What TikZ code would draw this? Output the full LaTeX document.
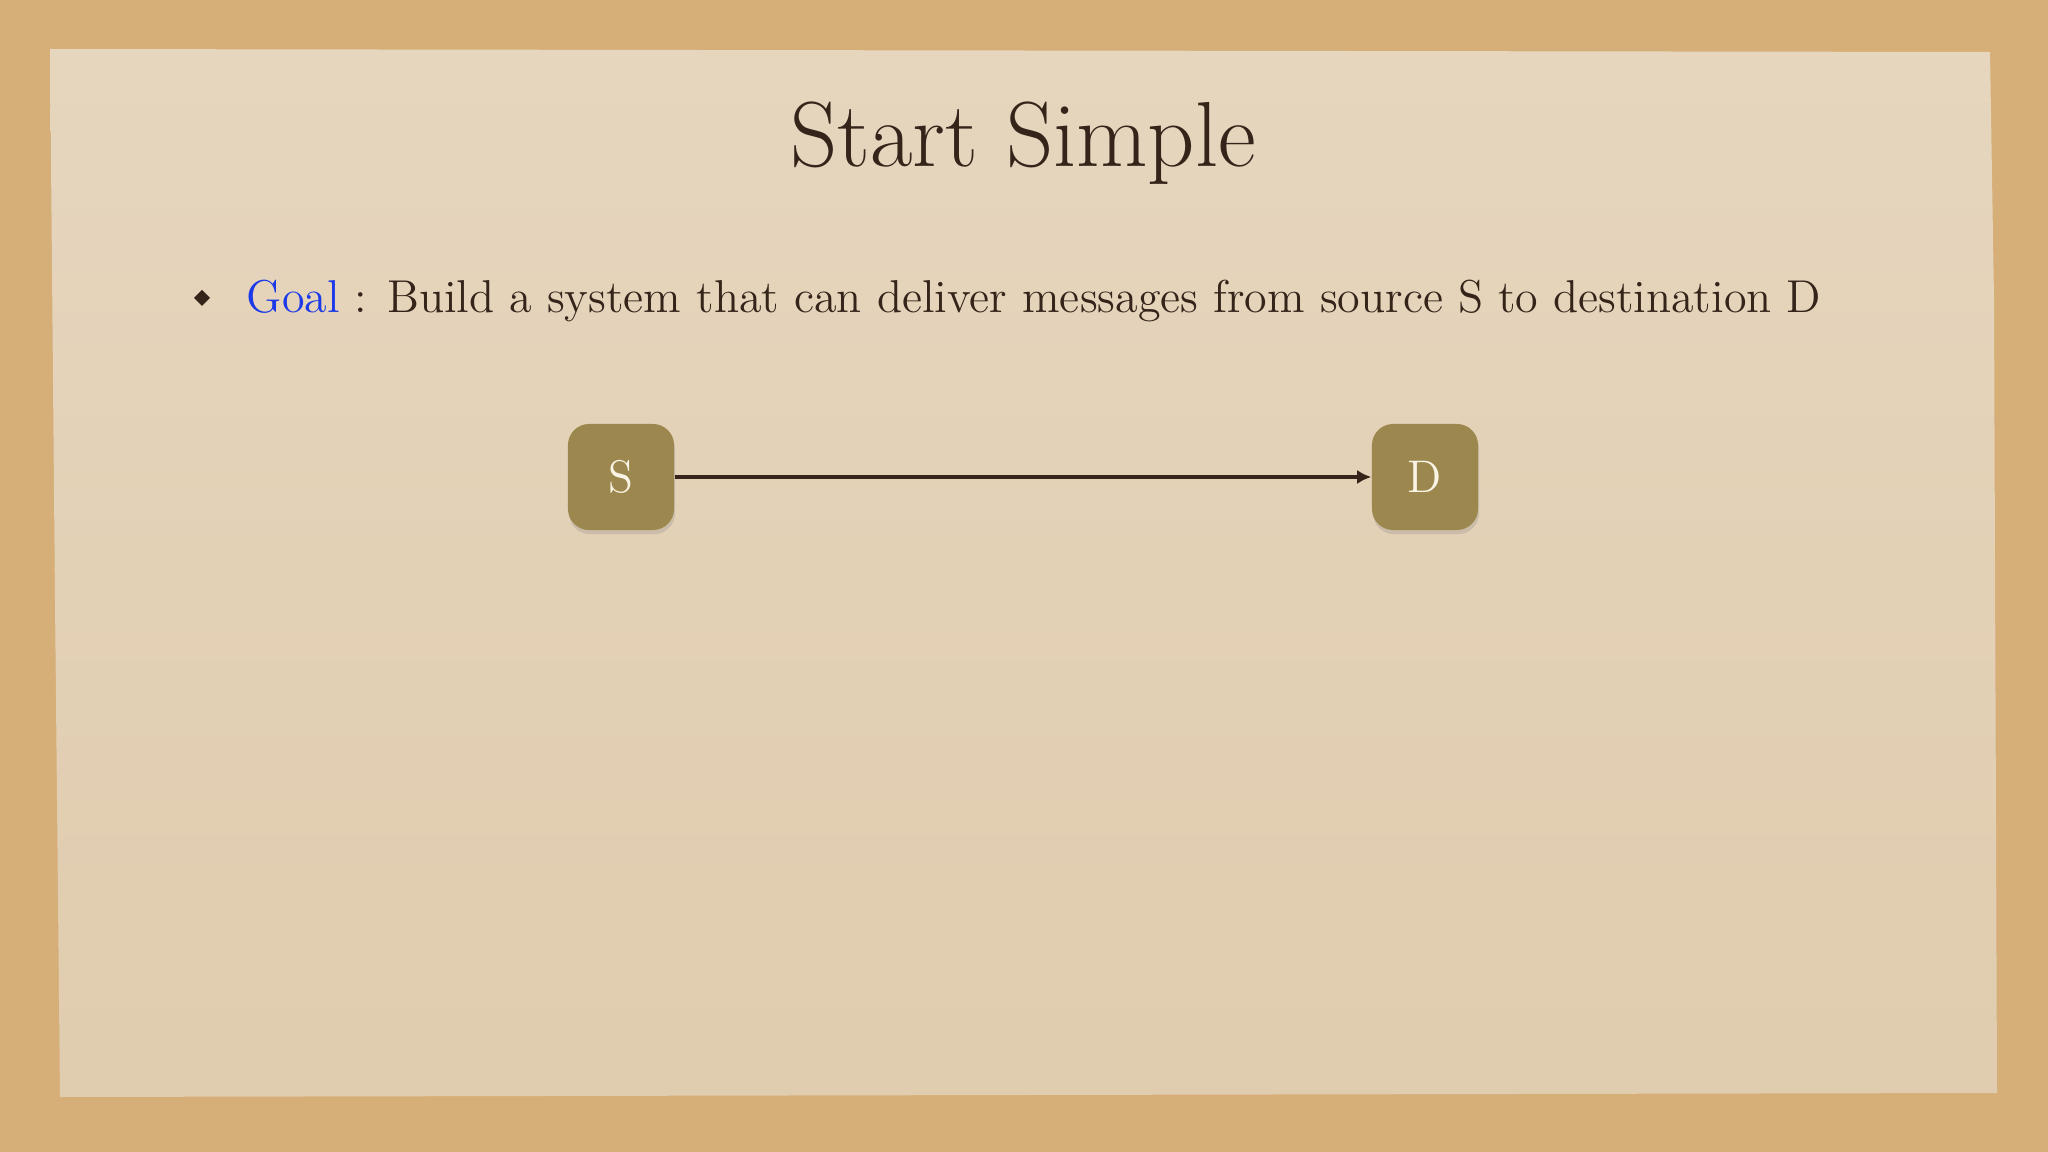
\documentclass[tikz,border=0pt]{standalone}
\usepackage{fontspec}
\setmainfont{Latin Modern Roman}
\usepackage{tikz}
\usetikzlibrary{arrows.meta,shadows}

\definecolor{corkbg}{RGB}{214,174,120}
\definecolor{paperlight}{RGB}{230,214,190}
\definecolor{paperdark}{RGB}{224,204,174}
\definecolor{inkbrown}{RGB}{52,36,26}
\definecolor{goalblue}{RGB}{28,58,232}
\definecolor{boxolive}{RGB}{156,136,78}
\definecolor{boxtext}{RGB}{250,244,230}

\tikzset{
    hostbox/.style={draw=none, fill=boxolive, rounded corners=6pt,
        minimum width=1.06cm, minimum height=1.06cm, inner sep=0pt,
        text=boxtext, font=\fontsize{13}{15}\selectfont,
        drop shadow={opacity=0.25, shadow xshift=0.3pt, shadow yshift=-1.2pt}},
    link/.style={draw=inkbrown, line width=1.2pt, -{Latex[length=4pt,width=4pt]}}
}

\begin{document}
\begin{tikzpicture}[x=0.01cm, y=-0.01cm]
    % Background
    \useasboundingbox (0,0) rectangle (2048,1152);
    \fill[corkbg] (0,0) rectangle (2048,1152);

    % Paper sheet
    \shade[top color=paperlight, bottom color=paperdark]
        (50,49) -- (1990,52) -- (1994,300) -- (1997,1093) -- (60,1097) -- (55,600) -- cycle;

    % Title
    \node[anchor=base, text=inkbrown, font=\fontsize{26.3}{31}\selectfont] (title) at (1023,167) {Start Simple};

    % Bullet
    \fill[inkbrown] (202,290) -- (210,298) -- (202,306) -- (194,298) -- cycle;
    \node[anchor=base west, inner sep=0pt, text=inkbrown, font=\fontsize{13.1}{16}\selectfont] (goal) at (246,313)
        {\textcolor{goalblue}{Goal} : Build a system that can deliver messages from source S to destination D};

    % Source and destination
    \node[hostbox] (src) at (621,477) {S};
    \node[hostbox] (dst) at (1425,477) {D};
    \draw[link] (src) -- (dst);
\end{tikzpicture}
\end{document}
